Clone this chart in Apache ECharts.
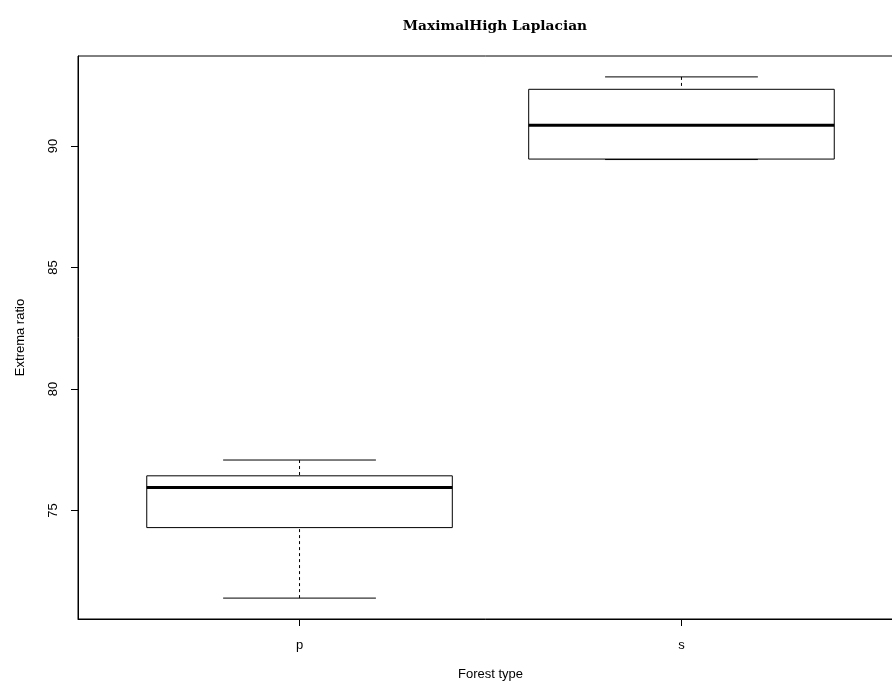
<!DOCTYPE html>
<html><head><meta charset="utf-8">
<script src="https://cdn.jsdelivr.net/npm/echarts@6/dist/echarts.min.js"></script>
<style>html,body{margin:0;padding:0;background:#fff}#c{width:892px;height:685px}</style>
</head><body><div id="c"></div>
<script>
const categories = ['p', 's'];
const lowerWhisker = [71.40, 89.44];
const q1 = [74.30, 89.46];
const median = [75.95, 90.85];
const q3 = [76.43, 92.33];
const upperWhisker = [77.08, 92.84];
const yTicks = [75, 80, 85, 90];

const data = categories.map((c, i) => [i + 1, lowerWhisker[i], q1[i], median[i], q3[i], upperWhisker[i]]);
const font = 'Liberation Sans, Arial, sans-serif';

const chart = echarts.init(document.getElementById('c'), null, {renderer: 'canvas'});
chart.setOption({
  animation: false,
  backgroundColor: '#fff',
  title: {
    text: 'MaximalHigh Laplacian',
    left: 490, top: 14, textAlign: 'center',
    textStyle: {fontFamily: 'DejaVu Serif, serif', fontWeight: 'bold', fontSize: 13.8, color: '#000'}
  },
  grid: {left: 78, top: 56, width: 825, height: 563, show: true, borderColor: '#000', borderWidth: 1,
    containLabel: false, outerBoundsMode: 'none'},
  xAxis: {
    type: 'value', min: 0.42, max: 2.58,
    splitLine: {show: false},
    axisLine: {show: true, lineStyle: {color: '#000', width: 1}},
    axisTick: {show: true, customValues: [1, 2], length: 7, lineStyle: {color: '#000'}},
    axisLabel: {customValues: [1, 2], margin: 20, color: '#000', fontFamily: font, fontSize: 13,
      formatter: v => categories[Math.round(v) - 1] || ''},
    name: 'Forest type', nameLocation: 'middle', nameGap: 49,
    nameTextStyle: {color: '#000', fontFamily: font, fontSize: 13}
  },
  yAxis: {
    type: 'value', min: 70.54, max: 93.70,
    splitLine: {show: false},
    axisLine: {show: true, lineStyle: {color: '#000', width: 1}},
    axisTick: {show: true, customValues: yTicks, length: 7, lineStyle: {color: '#000'}},
    axisLabel: {customValues: yTicks, rotate: 90, margin: 18, color: '#000', fontFamily: font, fontSize: 13},
    name: 'Extrema ratio', nameLocation: 'middle', nameGap: 51, nameRotate: 90,
    nameTextStyle: {color: '#000', fontFamily: font, fontSize: 13}
  },
  series: [{
    type: 'custom',
    data: data,
    clip: false,
    renderItem: function (params, api) {
      const x = api.value(0);
      const lw = api.value(1), a = api.value(2), m = api.value(3), b = api.value(4), uw = api.value(5);
      const hb = 0.4, hs = 0.2;
      const p = (xx, yy) => api.coord([xx, yy]);
      const L = p(x - hb, a), R = p(x + hb, b);
      const solid = {stroke: '#000', lineWidth: 1, fill: null};
      const dashed = {stroke: '#000', lineWidth: 1, lineDash: [3, 3], fill: null};
      const line = (p1, p2, style) => ({type: 'line', shape: {x1: p1[0], y1: p1[1], x2: p2[0], y2: p2[1]}, style: style});
      return {
        type: 'group',
        children: [
          line(p(x, uw), p(x, b), dashed),
          line(p(x, lw), p(x, a), dashed),
          line(p(x - hs, uw), p(x + hs, uw), solid),
          line(p(x - hs, lw), p(x + hs, lw), solid),
          {type: 'rect', shape: {x: L[0], y: R[1], width: R[0] - L[0], height: L[1] - R[1]}, style: {stroke: '#000', lineWidth: 1, fill: '#fff'}},
          line(p(x - hb, m), p(x + hb, m), {stroke: '#000', lineWidth: 3})
        ]
      };
    }
  }]
});
</script></body></html>
